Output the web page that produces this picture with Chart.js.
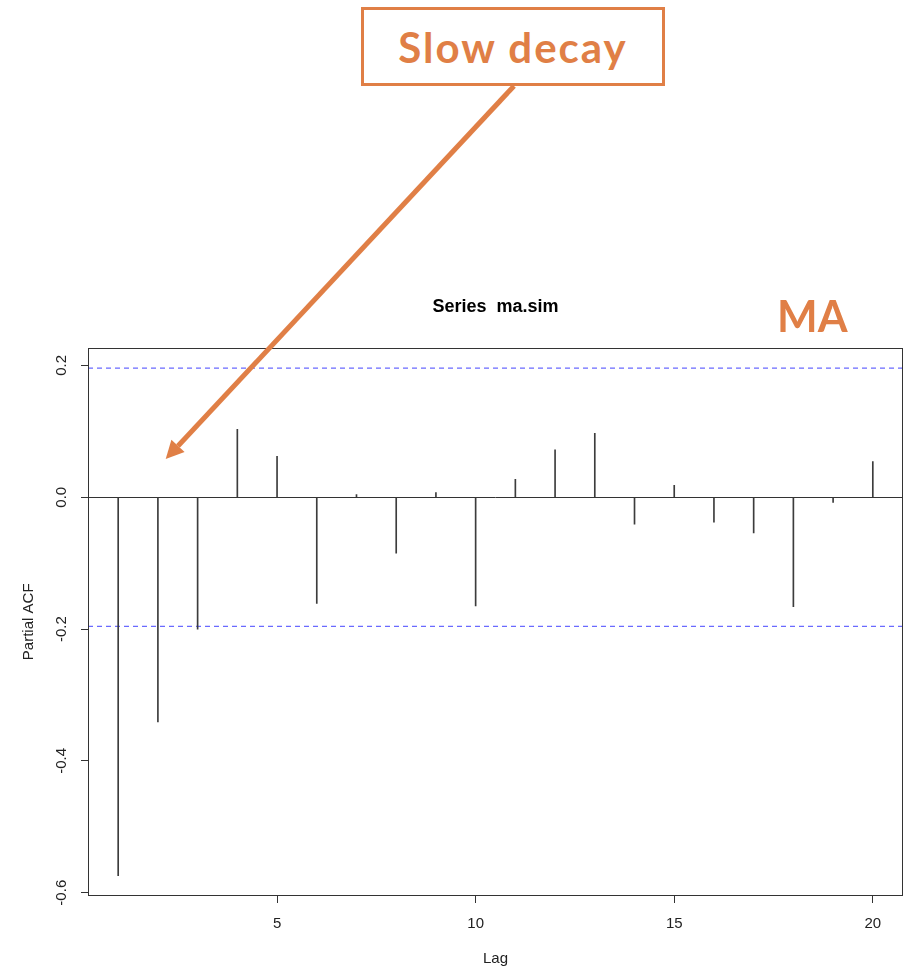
<!DOCTYPE html>
<html>
<head>
<meta charset="utf-8">
<title>Series ma.sim</title>
<script src="https://cdn.jsdelivr.net/npm/chart.js@4.4.1/dist/chart.umd.min.js"></script>
<style>
  html, body { margin: 0; padding: 0; background: #fff; }
  #wrap { position: relative; width: 906px; height: 970px; }
  #pacf { position: absolute; left: 0; top: 0; }
  .callout {
    position: absolute; left: 361px; top: 7px; width: 304px; height: 79px;
    box-sizing: border-box; border: 3px solid #e07f46; background: #fff;
    display: flex; align-items: center; justify-content: center;
    font: bold 42px Lato, "Open Sans", sans-serif; color: #e07f46; letter-spacing: 2px;
  }
  .tag {
    position: absolute; left: 777px; top: 290px;
    font: bold 43px Lato, "Open Sans", sans-serif; color: #e07f46;
  }
  #arrow { position: absolute; left: 0; top: 0; pointer-events: none; }
</style>
</head>
<body>
<div id="wrap">
  <canvas id="pacf" width="906" height="970"></canvas>
  <svg id="arrow" width="906" height="970">
    <line x1="514" y1="86" x2="178" y2="446" stroke="#e07f46" stroke-width="5"/>
    <polygon points="165.7,459 184.6,451.9 171.4,439.7" fill="#e07f46"/>
  </svg>
  <div class="callout">Slow decay</div>
  <div class="tag">MA</div>
</div>
<script>
// partial autocorrelations of ma.sim, lags 1..20
const lags = [1, 2, 3, 4, 5, 6, 7, 8, 9, 10, 11, 12, 13, 14, 15, 16, 17, 18, 19, 20];
const pacfValues = [-0.574, -0.341, -0.200, 0.103, 0.062, -0.161, 0.004, -0.085, 0.007, -0.165,
                    0.027, 0.072, 0.097, -0.041, 0.018, -0.038, -0.054, -0.166, -0.008, 0.054];
const ciBound = 0.196;          // 95% band, n = 100
const xTickValues = [5, 10, 15, 20];
const yTickValues = [-0.6, -0.4, -0.2, 0.0, 0.2];
const xLimits = [0.24, 20.76];
const yLimits = [-0.605, 0.227];

const axisColor = '#333';
const textFont = { family: '"Liberation Sans", Arial, Helvetica, sans-serif', size: 15 };

// box around the plotting region, like R's box()
const plotBox = {
  id: 'plotBox',
  afterDatasetsDraw(chart) {
    const { ctx, chartArea: a } = chart;
    ctx.save();
    ctx.strokeStyle = axisColor;
    ctx.lineWidth = 1;
    ctx.strokeRect(Math.round(a.left) + 0.5, Math.round(a.top) + 0.5,
                   Math.round(a.right - a.left) - 1, Math.round(a.bottom - a.top) - 1);
    ctx.restore();
  }
};

const bandData = (v) => [{ x: xLimits[0], y: v }, { x: xLimits[1], y: v }];

new Chart(document.getElementById('pacf'), {
  type: 'bar',
  data: {
    datasets: [
      {
        type: 'bar',
        data: lags.map((lag, i) => ({ x: lag, y: pacfValues[i] })),
        backgroundColor: '#3c3c3c',
        barThickness: 1,
        borderWidth: 0
      },
      {
        type: 'line',
        data: bandData(ciBound),
        borderColor: '#6a6aff',
        borderWidth: 1.3,
        borderDash: [5, 4],
        pointRadius: 0
      },
      {
        type: 'line',
        data: bandData(-ciBound),
        borderColor: '#6a6aff',
        borderWidth: 1.3,
        borderDash: [5, 4],
        pointRadius: 0
      }
    ]
  },
  options: {
    responsive: false,
    animation: false,
    layout: { padding: { top: 0, right: 3, bottom: 0, left: 0 } },
    plugins: {
      legend: { display: false },
      tooltip: { enabled: false },
      title: {
        display: true,
        fullSize: false,
        text: 'Series  ma.sim',
        color: '#000',
        font: { family: textFont.family, size: 18, weight: 'bold' },
        padding: { top: 296, bottom: 30 }
      }
    },
    scales: {
      x: {
        type: 'linear',
        offset: false,
        min: xLimits[0],
        max: xLimits[1],
        afterBuildTicks: (scale) => { scale.ticks = xTickValues.map(v => ({ value: v })); },
        afterFit: (scale) => { scale.height = 74; },
        grid: { offset: false, drawOnChartArea: false, color: axisColor, tickLength: 7 },
        border: { display: false },
        ticks: { color: '#222', font: textFont, padding: 12, maxRotation: 0 },
        title: { display: true, text: 'Lag', color: '#222', font: textFont, padding: { top: 0, bottom: 2 } }
      },
      y: {
        min: yLimits[0],
        max: yLimits[1],
        afterBuildTicks: (scale) => { scale.ticks = yTickValues.map(v => ({ value: v })); },
        afterFit: (scale) => { scale.width = 88; },
        grid: {
          color: (c) => (c.tick && c.tick.value === 0 ? axisColor : 'rgba(0,0,0,0)'),
          tickColor: axisColor,
          tickLength: 7
        },
        border: { display: false },
        ticks: {
          color: '#222', font: textFont, padding: 6,
          minRotation: 90, maxRotation: 90, crossAlign: 'center',
          callback: (v) => v.toFixed(1)
        },
        title: { display: true, text: 'Partial ACF', color: '#222', font: textFont, padding: { top: 20, bottom: 0 } }
      }
    }
  },
  plugins: [plotBox]
});
</script>
</body>
</html>
